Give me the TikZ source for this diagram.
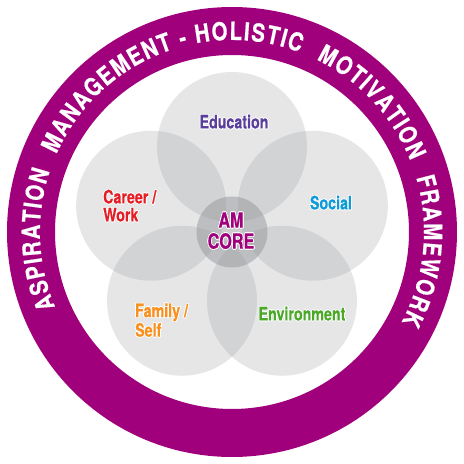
\documentclass[tikz,border=0pt]{standalone}
\usepackage{fontspec}
\setmainfont[FakeStretch=0.77, BoldFeatures={FakeBold=0.4}]{TeX Gyre Heros}
\newfontfamily\ringfont[FakeStretch=0.82, BoldFeatures={FakeBold=0.4}]{TeX Gyre Heros}
\usepackage{contour}
\contourlength{0.7pt}
\usetikzlibrary{decorations.text}
\definecolor{ringpurple}{HTML}{A1007C}
\definecolor{edu}{HTML}{5A3E9B}
\definecolor{career}{HTML}{E31E24}
\definecolor{social}{HTML}{0F9AD8}
\definecolor{family}{HTML}{F7901E}
\definecolor{envgreen}{HTML}{4BA829}
\definecolor{petal}{HTML}{8C8E92}
\tikzset{
  petalc/.style={circle, fill=petal, fill opacity=0.22, minimum size=150pt, inner sep=0pt},
  corec/.style={circle, fill=petal, fill opacity=0.45, minimum size=71pt, inner sep=0pt},
  lab/.style={font=\fontsize{18.5}{18}\selectfont\bfseries, align=left, inner sep=0pt},
}
\begin{document}
\begin{tikzpicture}[x=1pt,y=1pt]
\useasboundingbox (-232,-232) rectangle (232,232);
% ring
\fill[ringpurple, even odd rule] (0,0) circle[radius=225] (0,0) circle[radius=177];
\path[decorate, decoration={text along path, text color=white,
  text={|\ringfont\fontsize{25}{25}\selectfont\bfseries|ASPIRATION{\kern8pt} MANAGEMENT - HOLISTIC{\kern8pt} MOTIVATION{\kern8pt} FRAMEWORK},
  text align=fit to path}]
  (203:192) arc[start angle=203, end angle=-28, radius=192];
% petals
\node[petalc] (pedu) at (90:85) {};
\node[petalc] (pcar) at (162:85) {};
\node[petalc] (psoc) at (18:85) {};
\node[petalc] (pfam) at (234:85) {};
\node[petalc] (penv) at (306:85) {};
\node[corec] (core) at (0,0) {};
% labels
\node[lab, text=edu] (ledu) at (2,110) {\contour{white}{Education}};
\node[lab, text=career, anchor=west] (lcar) at (-129,26) {\contour{white}{Career /}\\\contour{white}{Work}};
\node[lab, text=social] (lsoc) at (99,29) {\contour{white}{Social}};
\node[lab, text=family, anchor=west] (lfam) at (-97,-88.5) {\contour{white}{Family /}\\\contour{white}{Self}};
\node[lab, text=envgreen] (lenv) at (70,-82) {\contour{white}{Environment}};
\node[font=\fontsize{21}{21}\selectfont\bfseries, align=center, text=ringpurple, inner sep=0pt] (lcore) at (-1,1) {\contour{white}{AM}\\\contour{white}{CORE}};
\end{tikzpicture}
\end{document}
